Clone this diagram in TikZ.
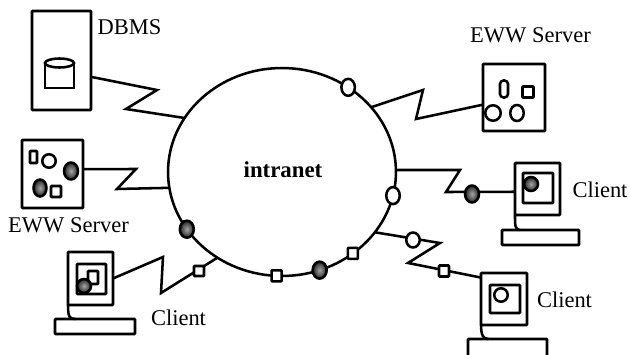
\documentclass[tikz,border=0pt]{standalone}
\usepackage{fontspec}
\setmainfont{Liberation Serif}
\usetikzlibrary{shapes.geometric}
\tikzset{
  heavy/.style={line width=1.45pt},
  wire/.style={heavy, line join=miter},
  box/.style={draw, heavy, rounded corners=0.4pt, inner sep=0pt, outer sep=0pt},
  ring/.style={draw, ellipse, heavy, inner sep=0pt, outer sep=0pt, minimum width=4.56cm, minimum height=4.16cm},
  roundmark/.style={draw, ellipse, heavy, inner sep=0pt},
  whiteport/.style={roundmark, fill=white, minimum width=0.27cm, minimum height=0.34cm},
  darkport/.style={roundmark, minimum width=0.28cm, minimum height=0.34cm, inner color=gray!70, outer color=black!85, shade},
  squareport/.style={box, fill=white, minimum width=0.2cm, minimum height=0.22cm},
  label/.style={font=\fontsize{12.8}{14}\selectfont, inner sep=0pt},
}
\begin{document}
\begin{tikzpicture}[x=0.02cm, y=-0.02cm]
\clip (0,0) rectangle (630,355);

% Network ring
\node[ring] (intranet) at (282,172) {};
\node[label, font=\fontsize{13}{15}\selectfont\bfseries] (intranetlabel) at (283,170) {intranet};

% DBMS
\node[box, minimum width=1.18cm, minimum height=1.98cm] (dbms) at (61.5,60.5) {};
\node[label] (dbmslabel) at (129.5,27) {DBMS};
\draw[wire] (45,63) -- (45,88) -- (74,88) -- (74,63);
\node[roundmark, minimum width=0.58cm, minimum height=0.18cm] (disk) at (59.5,63) {};

% Left server
\node[box, minimum width=1.22cm, minimum height=1.36cm] (serverl) at (52.5,174) {};
\node[label] (serverllabel) at (68.5,225) {EWW Server};
\node[box, minimum width=0.14cm, minimum height=0.24cm] (serverla) at (33.5,157) {};
\node[roundmark, minimum width=0.27cm, minimum height=0.27cm] (serverlb) at (49,161) {};
\node[darkport] (serverlc) at (71,171) {};
\node[darkport, minimum width=0.26cm] (serverld) at (40,188) {};
\node[box, minimum width=0.2cm, minimum height=0.22cm] (serverle) at (56,191.5) {};

% Right server
\node[box, minimum width=1.24cm, minimum height=1.34cm] (serverr) at (514,97.5) {};
\node[label] (serverrlabel) at (530.5,35) {EWW Server};
\node[box, rounded corners=2pt, minimum width=0.16cm, minimum height=0.34cm] (serverra) at (504,89) {};
\node[box, minimum width=0.22cm, minimum height=0.22cm] (serverrb) at (528,92) {};
\node[roundmark, minimum width=0.31cm, minimum height=0.31cm] (serverrc) at (493,113) {};
\node[roundmark, minimum width=0.27cm, minimum height=0.32cm] (serverrd) at (517,113) {};

% Left client
\node[box, minimum width=0.9cm, minimum height=1.06cm] (monl) at (90.5,278.5) {};
\node[box, minimum width=1.6cm, minimum height=0.3cm] (basel) at (95,326.5) {};
\node[label] (clientllabel) at (178.5,318) {Client};
\node[box, minimum width=0.58cm, minimum height=0.6cm] (screenl) at (91.5,279) {};
\node[box, minimum width=0.2cm, minimum height=0.26cm] (screenla) at (93,277.5) {};
\node[darkport, minimum width=0.28cm, minimum height=0.28cm] (screenlb) at (84,286) {};
\draw[wire] (monl.south west) .. controls +(0,12) and +(-6,0) .. (basel.159);

% Right client
\node[box, minimum width=0.9cm, minimum height=1.04cm] (monr) at (537.5,189) {};
\node[box, minimum width=1.54cm, minimum height=0.3cm] (baser) at (540.5,237.5) {};
\node[label] (clientrlabel) at (600,190) {Client};
\node[box, minimum width=0.6cm, minimum height=0.6cm] (screenr) at (538,188) {};
\node[darkport, minimum width=0.28cm, minimum height=0.28cm] (screenra) at (531,184) {};
\draw[wire] (monr.south west) .. controls +(0,10) and +(-5,0) .. (baser.160);

% Lower client
\node[box, minimum width=0.92cm, minimum height=1.04cm] (monb) at (504,299) {};
\node[box, minimum width=1.58cm, minimum height=0.52cm] (baseb) at (507.5,352) {};
\node[label] (clientblabel) at (564.5,300) {Client};
\node[box, minimum width=0.6cm, minimum height=0.56cm] (screenb) at (505,299) {};
\node[roundmark, minimum width=0.27cm, minimum height=0.27cm] (screenba) at (501,295) {};
\draw[wire] (monb.south west) .. controls +(0,10) and +(-5,0) .. (baseb.146);

% Zigzag links
\draw[wire] (dbms.-29) -- (157,90) -- (126,109) -- (intranet.151.6);
\draw[wire] (serverl.9) -- (136,169) -- (117,189) -- (intranet.188.6);
\draw[wire] (monl.east) -- (163,257) -- (161,293) -- (intranet.233.7);
\draw[wire] (serverr.193.6) -- (416,119) -- (423,90) -- (intranet.36.4);
\draw[wire] (monr.187.6) -- (446,192) -- (460,170) -- (intranet.1);
\draw[wire] (monb.137.6) -- (408,263) -- (440,243) -- (intranet.327.4);

% Ports on the ring
\node[whiteport] (ringa) at (intranet.52.9) {};
\node[darkport] (ringb) at (intranet.211) {};
\node[squareport] (ringc) at (intranet.267.2) {};
\node[darkport] (ringd) at (intranet.291.4) {};
\node[squareport] (ringe) at (intranet.311.2) {};
\node[whiteport] (ringf) at (intranet.348.3) {};

% Ports on the links
\node[squareport, minimum height=0.2cm] (linka) at (199,271) {};
\node[darkport] (linkb) at (472,194) {};
\node[whiteport, minimum height=0.3cm] (linkc) at (413,240) {};
\node[squareport] (linkd) at (444,271) {};
\end{tikzpicture}
\end{document}
